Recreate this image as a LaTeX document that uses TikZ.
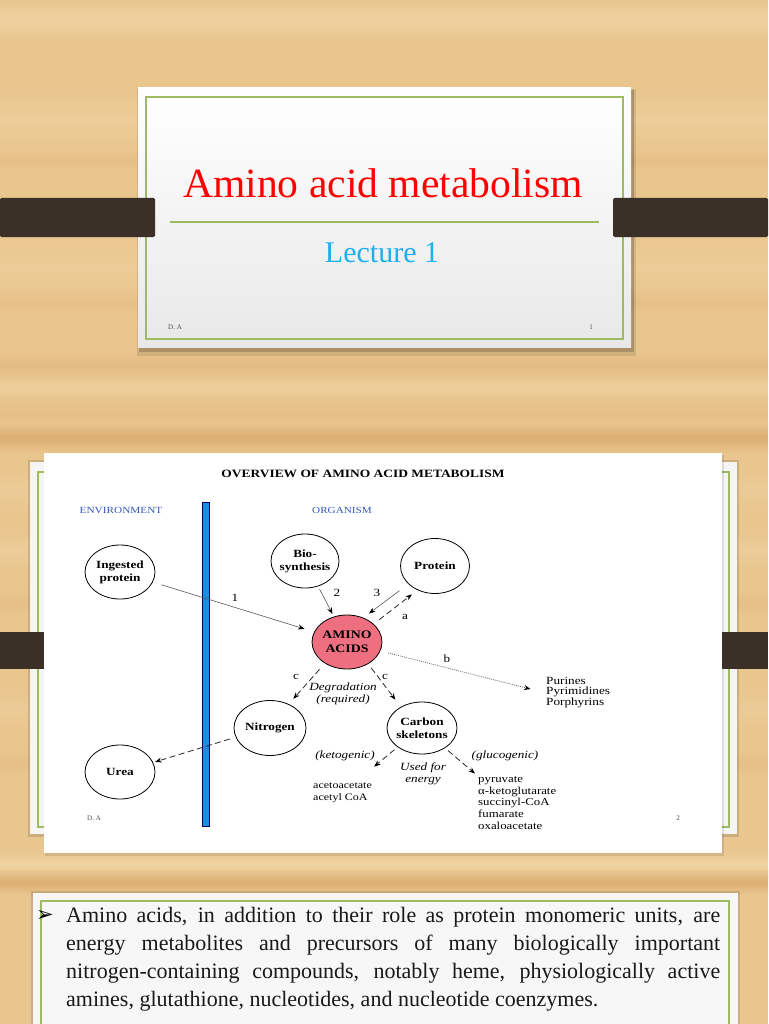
\documentclass[tikz,border=0pt]{standalone}
\usepackage{fontspec}
\setmainfont{Liberation Serif}
\newfontfamily\dfont[FakeStretch=1.2]{Liberation Serif}
\newfontfamily\symfont{DejaVu Sans}
\usetikzlibrary{arrows.meta,shapes.geometric}
\definecolor{woodA}{HTML}{EAC68F}
\definecolor{woodB}{HTML}{F2D7A6}
\definecolor{woodC}{HTML}{D9A96B}
\definecolor{barc}{HTML}{3A3028}
\definecolor{slgreen}{HTML}{9EBB62}
\definecolor{titlered}{HTML}{FF0000}
\definecolor{lecblue}{HTML}{1CB0EE}
\definecolor{envblue}{HTML}{3558B8}
\definecolor{barblue}{HTML}{1A8FE0}
\definecolor{aminopink}{HTML}{EE6F80}
\begin{document}
\begin{tikzpicture}[x=1pt,y=-1pt,
  ell/.style={ellipse, draw=black, line width=0.8pt, inner sep=-2pt,
    minimum width=70pt, minimum height=54pt, align=center,
    font=\dfont\bfseries\fontsize{11}{13}\selectfont},
  lbl/.style={inner sep=0pt, font=\dfont\fontsize{11}{12}\selectfont},
  ilbl/.style={inner sep=0pt, font=\dfont\itshape\fontsize{11}{13}\selectfont},
  tip/.style={-{Stealth[length=6.5pt,width=5pt,color=black]}},
  solidarr/.style={tip, draw=black!65, line width=0.6pt},
  dasharr/.style={tip, draw=black!85, line width=0.8pt, dash pattern=on 6pt off 3.5pt},
  dotarr/.style={tip, draw=black!60, line width=0.7pt, dash pattern=on 1pt off 1pt},
  bar/.style={fill=barc},
  slideborder/.style={draw=slgreen, line width=1.3pt},
  tiny/.style={inner sep=0pt, font=\fontsize{7}{8}\selectfont, text=black!70}
]
\useasboundingbox (0,0) rectangle (768,1024);
% ---------------- wood background ----------------
\fill[woodA] (0,0) rectangle (768,1024);
\foreach \y/\h/\c/\o in {0/40/woodB/0.7, 90/60/woodB/0.45, 150/20/woodC/0.25,
  230/70/woodB/0.35, 290/25/woodC/0.2, 350/30/woodC/0.35,
  375/25/woodB/0.6, 398/30/woodC/0.25, 422/32/woodC/0.8, 470/40/woodB/0.35,
  530/40/woodB/0.4, 590/25/woodC/0.2, 690/40/woodB/0.35, 750/25/woodC/0.2,
  850/28/woodB/0.8, 870/25/woodC/0.75}
  {\shade[top color=woodA, bottom color=woodA, middle color=\c, opacity=\o] (0,\y) rectangle (768,\y+\h);}
% ---------------- slide 1 ----------------
\fill[black,opacity=0.10] (137,89) rectangle (636,356);
\fill[black,opacity=0.18] (139,90) rectangle (634,352);
\shade[top color=white, bottom color=black!9] (138,88) rectangle (631,347);
\draw[slideborder] (146,97) rectangle (623,339);
\draw[slideborder] (170,222) -- (599,222);
\node[anchor=base, inner sep=0pt, text=titlered, font=\fontsize{41.6}{45}\selectfont]
  (title1) at (383,198) {Amino acid metabolism};
\node[anchor=base, inner sep=0pt, text=lecblue, font=\fontsize{30}{34}\selectfont]
  (lect) at (382,262) {Lecture 1};
\node[tiny] (da1) at (175,327) {D. A};
\node[tiny] (pg1) at (591,327) {1};
\fill[bar, rounded corners=1.5pt] (0,198) rectangle (155,237);
\fill[bar, rounded corners=1.5pt] (613,198) rectangle (768,237);
% ---------------- slide 2 ----------------
\fill[black,opacity=0.12] (28,460) rectangle (739,837);
\fill[black!4] (30,462) rectangle (737,834);
\draw[slideborder] (38,472) rectangle (729,827);
\fill[black,opacity=0.10] (45,455) rectangle (724,856);
\fill[white] (44,453) rectangle (722,853);
\fill[bar] (0,632) rectangle (44,669);
\fill[bar] (722,632) rectangle (768,669);
% ---------------- slide 3 ----------------
\fill[black,opacity=0.12] (31,891) rectangle (740,1024);
\fill[black!3] (33,893) rectangle (738,1024);
\draw[slideborder] (41,901) rectangle (729,1040);
% ---------------- diagram ----------------
\node[inner sep=0pt, font=\dfont\bfseries\fontsize{11.2}{13}\selectfont] (ovt) at (363,474)
  {OVERVIEW OF AMINO ACID METABOLISM};
\node[inner sep=0pt, text=envblue, font=\dfont\fontsize{9.4}{11}\selectfont] (env) at (121,510) {ENVIRONMENT};
\node[inner sep=0pt, text=envblue, font=\dfont\fontsize{9.3}{11}\selectfont] (org) at (342,510) {ORGANISM};
\draw[fill=barblue, draw=black!60!blue, line width=0.6pt] (202,502) rectangle (209,826);

\node[ell] (ing) at (120,572) {Ingested\\protein};
\node[ell, minimum width=68pt] (bio) at (305,561) {Bio-\\synthesis};
\node[ell, minimum width=69pt, minimum height=55pt] (prot) at (435,566) {Protein};
\node[ell, fill=aminopink, font=\dfont\bfseries\fontsize{11.5}{14}\selectfont] (amino) at (347,642) {AMINO\\ACIDS};
\node[ell, minimum width=72pt, minimum height=55pt] (nit) at (270,728) {Nitrogen};
\node[ell] (urea) at (120,772) {Urea};
\node[ell, minimum height=52pt] (cs) at (422,728) {Carbon\\skeletons};

\node[anchor=west, align=left, inner sep=0pt, font=\dfont\fontsize{11}{10}\selectfont]
  (pur) at (546,693) {Purines\\Pyrimidines\\Porphyrins};
\node[anchor=west, align=left, inner sep=0pt, font=\dfont\fontsize{10}{12.5}\selectfont]
  (keto) at (313,793) {acetoacetate\\acetyl CoA};
\node[anchor=west, align=left, inner sep=0pt, font=\dfont\fontsize{10.7}{11.8}\selectfont]
  (gluco) at (478,803) {pyruvate\\α-ketoglutarate\\succinyl-CoA\\fumarate\\oxaloacetate};

% connectors
\draw[solidarr, shorten <=9pt, shorten >=10pt] (ing) -- (amino);
\draw[solidarr, shorten <=3pt, shorten >=3pt] (bio) -- (amino);
\draw[solidarr, shorten <=11pt, shorten >=7pt] (prot.214) -- (amino.56);
\draw[dasharr, shorten <=7pt, shorten >=7pt] (amino.34) -- (prot.234);
\draw[dotarr, shorten <=8pt, shorten >=16pt] (amino.-15) -- (pur.west);
\draw[dasharr, shorten <=8pt, shorten >=7pt] (amino.224) -- (nit.52);
\draw[dasharr, shorten <=5pt, shorten >=9pt] (amino.-46) -- (cs.135);
\draw[dasharr, shorten <=6pt, shorten >=2pt] (nit.195) -- (urea.16);
\draw[dasharr, shorten <=4pt, shorten >=25pt] (cs.218) -- (keto);
\draw[dasharr, shorten <=4pt, shorten >=4pt] (cs.-41) -- (gluco.north west);

% labels
\node[lbl] (l1) at (235,598) {1};
\node[lbl] (l2) at (337,593) {2};
\node[lbl] (l3) at (377,593) {3};
\node[lbl] (la) at (405,617) {a};
\node[lbl] (lb) at (447,659) {b};
\node[lbl] (lc1) at (296,677) {c};
\node[lbl] (lc2) at (385,677) {c};
\node[ilbl] (deg) at (343,688) {Degradation};
\node[ilbl] (req) at (343,700) {(required)};
\node[ilbl] (ketol) at (345,756) {(ketogenic)};
\node[ilbl] (glul) at (505,756) {(glucogenic)};
\node[ilbl] (used) at (423,768) {Used for};
\node[ilbl] (energy) at (423,781) {energy};
\node[tiny] (da2) at (94,818) {D. A};
\node[tiny] (pg2) at (678,818) {2};

% ---------------- slide 3 text ----------------
\node[inner sep=0pt, font=\symfont\fontsize{21}{24}\selectfont] (bul) at (45,916) {➢};
\begin{scope}[every node/.style={anchor=base west, inner sep=0pt, text=black!90, font=\fontsize{22}{28}\selectfont}]
\node (t1) at (66,922) {\makebox[654pt][s]{Amino acids, in addition to their role as protein monomeric units, are}};
\node (t2) at (66,950) {\makebox[654pt][s]{energy metabolites and precursors of many biologically important}};
\node (t3) at (66,978) {\makebox[654pt][s]{nitrogen-containing compounds, notably heme, physiologically active}};
\node (t4) at (66,1006) {amines, glutathione, nucleotides, and nucleotide coenzymes.};
\end{scope}
\end{tikzpicture}
\end{document}
